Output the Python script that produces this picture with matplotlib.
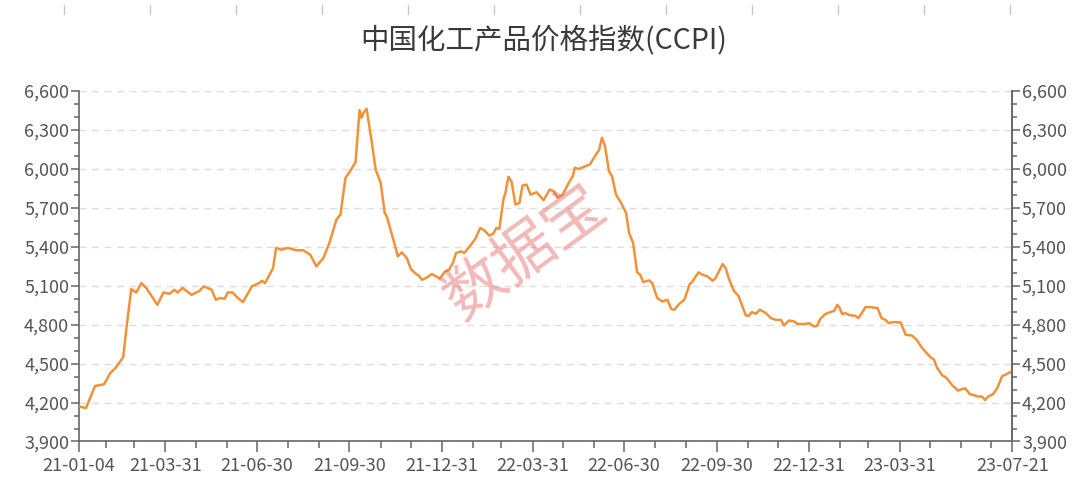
import matplotlib
matplotlib.use("Agg")
import matplotlib.pyplot as plt
import matplotlib.dates as mdates
from matplotlib.ticker import MultipleLocator, FuncFormatter
from matplotlib.lines import Line2D
import pandas as pd

plt.rcParams['font.family'] = ['Noto Sans CJK SC', 'DejaVu Sans']

title = "中国化工产品价格指数(CCPI)"
watermark = "数据宝"
start_date = "2021-01-04"
end_date = "2023-07-21"
last_quarter = "2023-03-31"

dates = [
    "2021-01-04", "2021-01-11", "2021-01-20", "2021-01-29", "2021-02-04", "2021-02-09",
    "2021-02-17", "2021-02-20", "2021-02-25", "2021-03-02", "2021-03-07", "2021-03-12",
    "2021-03-23", "2021-03-29", "2021-04-04", "2021-04-09", "2021-04-12", "2021-04-17",
    "2021-04-26", "2021-05-04", "2021-05-08", "2021-05-16", "2021-05-20", "2021-05-24",
    "2021-05-29", "2021-06-01", "2021-06-06", "2021-06-10", "2021-06-16", "2021-06-25",
    "2021-07-02", "2021-07-05", "2021-07-08", "2021-07-16", "2021-07-19", "2021-07-24",
    "2021-07-31", "2021-08-08", "2021-08-15", "2021-08-22", "2021-08-28", "2021-09-04",
    "2021-09-10", "2021-09-17", "2021-09-21", "2021-09-26", "2021-09-30", "2021-10-06",
    "2021-10-10", "2021-10-12", "2021-10-14", "2021-10-17", "2021-10-22", "2021-10-26",
    "2021-10-31", "2021-11-04", "2021-11-06", "2021-11-14", "2021-11-17", "2021-11-21",
    "2021-11-26", "2021-11-30", "2021-12-04", "2021-12-08", "2021-12-11", "2021-12-15",
    "2021-12-21", "2021-12-25", "2021-12-29",
    "2022-01-03", "2022-01-07", "2022-01-11", "2022-01-14", "2022-01-19", "2022-01-22",
    "2022-01-27", "2022-02-02", "2022-02-07", "2022-02-11", "2022-02-16", "2022-02-20",
    "2022-02-23", "2022-02-26", "2022-03-02", "2022-03-04", "2022-03-07", "2022-03-10",
    "2022-03-14", "2022-03-18", "2022-03-21", "2022-03-25", "2022-03-29", "2022-04-04",
    "2022-04-11", "2022-04-17", "2022-04-21", "2022-04-25", "2022-04-30", "2022-05-06",
    "2022-05-10", "2022-05-12", "2022-05-16", "2022-05-21", "2022-05-27", "2022-06-02",
    "2022-06-05", "2022-06-08", "2022-06-11", "2022-06-15", "2022-06-18", "2022-06-22",
    "2022-06-27", "2022-07-02", "2022-07-05", "2022-07-09", "2022-07-13", "2022-07-16",
    "2022-07-19", "2022-07-25", "2022-07-28", "2022-08-02", "2022-08-07", "2022-08-12",
    "2022-08-16", "2022-08-19", "2022-08-24", "2022-08-29", "2022-09-03", "2022-09-06",
    "2022-09-12", "2022-09-16", "2022-09-21", "2022-09-26", "2022-09-29", "2022-10-06",
    "2022-10-09", "2022-10-12", "2022-10-17", "2022-10-22", "2022-10-29", "2022-11-01",
    "2022-11-04", "2022-11-08", "2022-11-12", "2022-11-18", "2022-11-23", "2022-11-28",
    "2022-12-03", "2022-12-06", "2022-12-11", "2022-12-16", "2022-12-19", "2022-12-26",
    "2022-12-31",
    "2023-01-05", "2023-01-08", "2023-01-11", "2023-01-16", "2023-01-21", "2023-01-25",
    "2023-01-28", "2023-01-30", "2023-02-02", "2023-02-05", "2023-02-09", "2023-02-15",
    "2023-02-18", "2023-02-22", "2023-02-25", "2023-03-02", "2023-03-09", "2023-03-13",
    "2023-03-17", "2023-03-20", "2023-03-25", "2023-04-01", "2023-04-06", "2023-04-12",
    "2023-04-17", "2023-04-22", "2023-04-27", "2023-05-01", "2023-05-04", "2023-05-07",
    "2023-05-12", "2023-05-17", "2023-05-22", "2023-05-28", "2023-06-01", "2023-06-04",
    "2023-06-09", "2023-06-12", "2023-06-17", "2023-06-21", "2023-06-24", "2023-06-27",
    "2023-07-02", "2023-07-06", "2023-07-11", "2023-07-14", "2023-07-18", "2023-07-21",
]

ccpi = [
    4170, 4157, 4328, 4341, 4426, 4464,
    4549, 4760, 5074, 5048, 5120, 5082,
    4953, 5048, 5038, 5069, 5048, 5082,
    5030, 5061, 5095, 5069, 4992, 5005,
    5000, 5048, 5048, 5012, 4974, 5095,
    5120, 5138, 5120, 5236, 5391, 5378,
    5391, 5373, 5373, 5339, 5249, 5313,
    5429, 5609, 5648, 5931, 5975, 6052,
    6453, 6394, 6433, 6464, 6214, 5995,
    5892, 5661, 5635, 5416, 5326, 5357,
    5313, 5229, 5198, 5177, 5146, 5159,
    5190, 5172, 5156,
    5210, 5223, 5280, 5352, 5365, 5352,
    5398, 5460, 5545, 5527, 5486, 5501,
    5545, 5537, 5764, 5815, 5939, 5905,
    5725, 5738, 5872, 5879, 5802, 5820,
    5759, 5841, 5828, 5777, 5802, 5892,
    5944, 6008, 6000, 6016, 6034, 6111,
    6142, 6240, 6175, 5982, 5944, 5802,
    5738, 5661, 5506, 5429, 5203, 5185,
    5128, 5141, 5120, 5005, 4979, 4992,
    4920, 4915, 4961, 4992, 5108, 5133,
    5203, 5185, 5172, 5138, 5159, 5267,
    5236, 5159, 5064, 5018, 4871, 4868,
    4897, 4884, 4915, 4889, 4850, 4837,
    4837, 4795, 4832, 4825, 4807, 4804,
    4812,
    4786, 4791, 4843, 4881, 4897, 4907,
    4953, 4933, 4881, 4889, 4874, 4868,
    4850, 4897, 4935, 4935, 4928, 4850,
    4837, 4812, 4820, 4817, 4722, 4717,
    4683, 4624, 4580, 4547, 4534, 4472,
    4413, 4387, 4336, 4292, 4302, 4310,
    4264, 4259, 4246, 4246, 4220, 4246,
    4266, 4310, 4405, 4413, 4431, 4440,
]

y_min, y_max = 3900, 6600

x = pd.to_datetime(dates)
t0, t1 = pd.Timestamp(start_date), pd.Timestamp(end_date)

fig = plt.figure(figsize=(10.8, 4.96), dpi=100)
ax = fig.add_axes([0.0731, 0.1099, 0.8642, 0.7066])

ax.plot(x, ccpi, color='#f0923a', lw=1.8, zorder=3)

ax.set_xlim(t0, t1)
ax.set_ylim(y_min, y_max)

# x ticks: quarter ends labelled, month ends as minor ticks
majors = [t0] + list(pd.date_range(t0, last_quarter, freq='QE')) + [t1]
minors = [d for d in pd.date_range(t0, t1, freq='ME') if d not in majors]
ax.set_xticks(majors)
ax.set_xticks(minors, minor=True)
ax.xaxis.set_major_formatter(mdates.DateFormatter('%y-%m-%d'))

ax.yaxis.set_major_locator(MultipleLocator(300))
ax.yaxis.set_minor_locator(MultipleLocator(100))
fmt = FuncFormatter(lambda v, p: f"{int(v):,}")
ax.yaxis.set_major_formatter(fmt)

ax.grid(axis='y', which='major', color='#dddddd', linestyle=(0, (5, 4)), lw=1)
ax.set_axisbelow(True)

axis_col = '#666666'
label_col = '#555555'
ax.spines['top'].set_visible(False)
for s in ['left', 'bottom', 'right']:
    ax.spines[s].set_color(axis_col)
    ax.spines[s].set_linewidth(1.2)

ax.tick_params(axis='x', which='major', length=8, width=1.1, color=axis_col,
               labelsize=13, labelcolor=label_col, pad=3)
ax.tick_params(axis='x', which='minor', length=5, width=1.1, color=axis_col)
ax.tick_params(axis='y', which='major', length=6, width=1.1, color=axis_col,
               labelsize=13, labelcolor=label_col, pad=1)
ax.tick_params(axis='y', which='minor', length=3.5, width=1.1, color=axis_col)

ax2 = ax.twinx()
ax2.set_ylim(y_min, y_max)
ax2.yaxis.set_major_locator(MultipleLocator(300))
ax2.yaxis.set_minor_locator(MultipleLocator(100))
ax2.yaxis.set_major_formatter(fmt)
for s in ['top', 'left', 'bottom']:
    ax2.spines[s].set_visible(False)
ax2.spines['right'].set_color(axis_col)
ax2.spines['right'].set_linewidth(1.2)
ax2.tick_params(axis='y', which='major', length=6, width=1.1, color=axis_col,
                labelsize=13, labelcolor=label_col, pad=1)
ax2.tick_params(axis='y', which='minor', length=3.5, width=1.1, color=axis_col)

fig.text(0.503, 0.919, title, ha='center', va='center', fontsize=20.5, color='#3a3a3a')

# faint tick marks along the very top edge of the screenshot
for i in range(12):
    xp = (64 + i * 86) / 1080
    fig.add_artist(Line2D([xp, xp], [1 - 5 / 496, 1 - 14 / 496], color='#c8c8c8', lw=1))

fig.text(0.487, 0.49, watermark, ha='center', va='center', fontsize=44,
         color='#e57373', alpha=0.5, rotation=36, zorder=5)

fig.savefig('out.png', dpi=100)
